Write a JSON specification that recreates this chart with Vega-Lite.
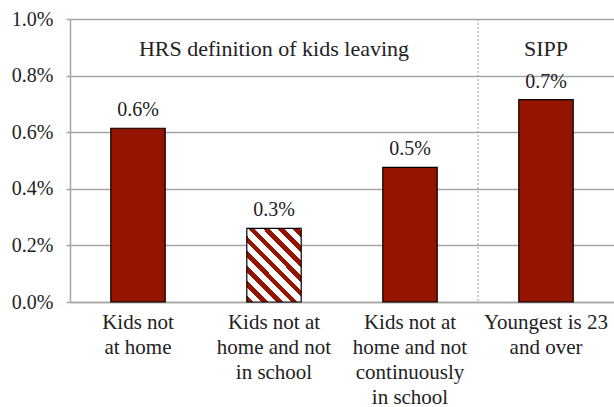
{
  "$schema": "https://vega.github.io/schema/vega-lite/v6.json",
  "width": 544,
  "height": 283,
  "autosize": {"type": "none"},
  "padding": {"left": 70, "top": 19, "right": 0, "bottom": 105},
  "background": "white",
  "config": {
    "view": {"stroke": null},
    "font": "Liberation Serif",
    "text": {"font": "Liberation Serif", "color": "#222222"}
  },
  "datasets": {
    "bars": [
      {"cat": "Kids not|at home", "value": 0.00614, "style": "solid"},
      {"cat": "Kids not at|home and not|in school", "value": 0.0026, "style": "hatched"},
      {"cat": "Kids not at|home and not|continuously|in school", "value": 0.00476, "style": "solid"},
      {"cat": "Youngest is 23|and over", "value": 0.00715, "style": "solid"}
    ],
    "groups": [
      {"cat": "Kids not at|home and not|in school", "label": "HRS definition of kids leaving"},
      {"cat": "Youngest is 23|and over", "label": "SIPP"}
    ]
  },
  "data": {"name": "bars"},
  "encoding": {
    "x": {
      "field": "cat",
      "type": "nominal",
      "sort": ["Kids not|at home", "Kids not at|home and not|in school", "Kids not at|home and not|continuously|in school", "Youngest is 23|and over"],
      "scale": {"paddingInner": 0, "paddingOuter": 0},
      "axis": {
        "title": null,
        "labelAngle": 0,
        "ticks": false,
        "domainColor": "#a6a6a6",
        "domainWidth": 1.5,
        "labelExpr": "split(datum.label, '|')",
        "labelFont": "Liberation Serif",
        "labelFontSize": 21,
        "labelColor": "#222222",
        "labelLineHeight": 25,
        "labelPadding": 9,
        "labelLimit": 0
      }
    }
  },
  "layer": [
    {
      "mark": {"type": "rule", "color": "#999999", "strokeDash": [2, 2], "strokeWidth": 1},
      "transform": [{"filter": "datum.cat == 'Youngest is 23|and over'"}],
      "encoding": {
        "x": {"field": "cat", "type": "nominal", "sort": ["Kids not|at home", "Kids not at|home and not|in school", "Kids not at|home and not|continuously|in school", "Youngest is 23|and over"], "bandPosition": 0}
      }
    },
    {
      "mark": {"type": "bar", "width": {"band": 0.4}, "fill": "#941400", "stroke": "#000000", "strokeWidth": 1.2},
      "transform": [{"filter": "datum.style == 'solid'"}],
      "encoding": {
        "y": {
          "field": "value",
          "type": "quantitative",
          "scale": {"domain": [0, 0.01], "nice": false},
          "axis": {
            "title": null,
            "format": ".1%",
            "values": [0, 0.002, 0.004, 0.006, 0.008, 0.01],
            "grid": true,
            "gridColor": "#a6a6a6",
            "gridWidth": 1.5,
            "domainColor": "#a6a6a6",
            "domainWidth": 1.5,
            "tickColor": "#a6a6a6",
            "tickWidth": 1.5,
            "tickSize": 4,
            "labelPadding": 13,
            "labelFont": "Liberation Serif",
            "labelFontSize": 20,
            "labelColor": "#222222"
          }
        }
      }
    },
    {
      "mark": {
        "type": "bar",
        "width": {"band": 0.4},
        "stroke": "#000000",
        "strokeWidth": 1.2,
        "fill": {
          "gradient": "linear",
          "x1": 0, "y1": 1, "x2": 0.835, "y2": -0.123,
          "stops": [
            {"offset": 0, "color": "#941400"}, {"offset": 0.052, "color": "#941400"},
            {"offset": 0.052, "color": "#ffffff"}, {"offset": 0.116, "color": "#ffffff"},
            {"offset": 0.116, "color": "#941400"}, {"offset": 0.168, "color": "#941400"},
            {"offset": 0.168, "color": "#ffffff"}, {"offset": 0.232, "color": "#ffffff"},
            {"offset": 0.232, "color": "#941400"}, {"offset": 0.284, "color": "#941400"},
            {"offset": 0.284, "color": "#ffffff"}, {"offset": 0.348, "color": "#ffffff"},
            {"offset": 0.348, "color": "#941400"}, {"offset": 0.4, "color": "#941400"},
            {"offset": 0.4, "color": "#ffffff"}, {"offset": 0.464, "color": "#ffffff"},
            {"offset": 0.464, "color": "#941400"}, {"offset": 0.516, "color": "#941400"},
            {"offset": 0.516, "color": "#ffffff"}, {"offset": 0.58, "color": "#ffffff"},
            {"offset": 0.58, "color": "#941400"}, {"offset": 0.632, "color": "#941400"},
            {"offset": 0.632, "color": "#ffffff"}, {"offset": 0.696, "color": "#ffffff"},
            {"offset": 0.696, "color": "#941400"}, {"offset": 0.748, "color": "#941400"},
            {"offset": 0.748, "color": "#ffffff"}, {"offset": 0.812, "color": "#ffffff"},
            {"offset": 0.812, "color": "#941400"}, {"offset": 0.864, "color": "#941400"},
            {"offset": 0.864, "color": "#ffffff"}, {"offset": 0.928, "color": "#ffffff"},
            {"offset": 0.928, "color": "#941400"}, {"offset": 0.98, "color": "#941400"},
            {"offset": 0.98, "color": "#ffffff"}, {"offset": 1, "color": "#ffffff"}
          ]
        }
      },
      "transform": [{"filter": "datum.style == 'hatched'"}],
      "encoding": {
        "y": {"field": "value", "type": "quantitative"}
      }
    },
    {
      "mark": {"type": "text", "baseline": "alphabetic", "dy": -12, "fontSize": 20},
      "encoding": {
        "y": {"field": "value", "type": "quantitative"},
        "text": {"field": "value", "type": "quantitative", "format": ".1%"}
      }
    },
    {
      "data": {"name": "groups"},
      "mark": {"type": "text", "baseline": "alphabetic", "fontSize": 22},
      "encoding": {
        "x": {"field": "cat", "type": "nominal", "sort": ["Kids not|at home", "Kids not at|home and not|in school", "Kids not at|home and not|continuously|in school", "Youngest is 23|and over"]},
        "y": {"datum": 0.0087, "type": "quantitative"},
        "text": {"field": "label", "type": "nominal"}
      }
    }
  ]
}
